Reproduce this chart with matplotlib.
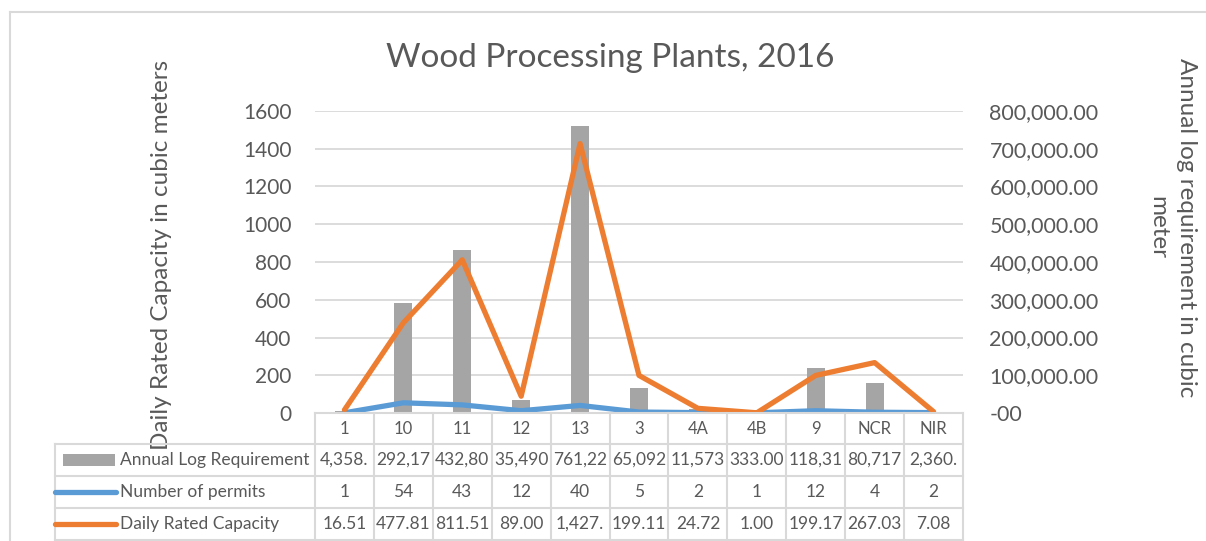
import matplotlib.pyplot as plt
import numpy as np
from matplotlib.lines import Line2D
from matplotlib.patches import Rectangle
from matplotlib.ticker import FuncFormatter, MultipleLocator
from matplotlib.transforms import blended_transform_factory

plt.rcParams['font.family'] = ['Lato', 'DejaVu Sans']

regions = ['1', '10', '11', '12', '13', '3', '4A', '4B', '9', 'NCR', 'NIR']
annual_log = [4358.40, 292172.00, 432803.00, 35490.00, 761224.00, 65092.00,
              11573.00, 333.00, 118315.00, 80717.00, 2360.00]
permits = [1, 54, 43, 12, 40, 5, 2, 1, 12, 4, 2]
daily_cap = [16.51, 477.81, 811.51, 89.00, 1427.20, 199.11, 24.72, 1.00,
             199.17, 267.03, 7.08]

GRAY = '#A5A5A5'
BLUE = '#5B9BD5'
ORANGE = '#ED7D31'
TXT = '#595959'
GRID = '#D9D9D9'

W, H = 1206, 541
fig = plt.figure(figsize=(W / 100, H / 100), dpi=100)


def fx(px):
    return px / W


def fy(py):
    return 1 - py / H


# plot area in pixels
L, R, T, B = 315, 963, 111, 413
ax = fig.add_axes([fx(L), fy(B), fx(R) - fx(L), fy(T) - fy(B)])
x = np.arange(len(regions))

ax.set_ylim(0, 1600)
ax.yaxis.set_major_locator(MultipleLocator(200))
ax.grid(axis='y', color=GRID, linewidth=1.3)
ax.set_axisbelow(True)
for s in ax.spines.values():
    s.set_visible(False)
ax.tick_params(axis='y', length=0, pad=17, labelsize=15, labelcolor=TXT)
ax.set_xticks([])
ax.set_ylabel('Daily Rated Capacity in cubic meters', fontsize=17.5, color=TXT)
ax.yaxis.set_label_coords(fx(172), fy(255), transform=fig.transFigure)

# bars on the secondary axis
ax2 = ax.twinx()
ax2.bar(x, annual_log, width=0.31, color=GRAY, zorder=2)
ax2.set_ylim(0, 800000)
ax2.yaxis.set_major_locator(MultipleLocator(100000))
ax2.yaxis.set_major_formatter(FuncFormatter(lambda v, p: f'{v:,.2f}' if v > 0 else '-00'))
ax2.tick_params(axis='y', length=0, pad=19, labelsize=15.5, labelcolor=TXT)
for s in ax2.spines.values():
    s.set_visible(False)

# lines on the primary scale, drawn above the bars
ax3 = ax.twinx()
ax3.plot(x, permits, color=BLUE, lw=3.8, solid_capstyle='round', solid_joinstyle='round')
ax3.plot(x, daily_cap, color=ORANGE, lw=3.8, solid_capstyle='round', solid_joinstyle='round')
ax3.set_ylim(0, 1600)
ax3.axis('off')

for a in (ax, ax2, ax3):
    a.set_xlim(-0.5, len(regions) - 0.5)

fig.text(fx(1172), fy(228), 'Annual log requirement in cubic\nmeter', rotation=270,
         ha='center', va='center', fontsize=17.5, color=TXT, linespacing=1.45)

fig.text(fx(610), fy(58), 'Wood Processing Plants, 2016', ha='center', va='center',
         fontsize=24, color=TXT)

# data table
trans = blended_transform_factory(ax.transData, fig.transFigure)
rows_y = [413, 444, 476, 508, 540]
fig.add_artist(Line2D([-0.5, len(regions) - 0.5], [fy(413)] * 2, transform=trans,
                      color=GRID, lw=1.5))
for yy in rows_y[1:]:
    fig.add_artist(Line2D([fx(55), fx(R)], [fy(yy)] * 2, color=GRID, lw=1.5))
fig.add_artist(Line2D([fx(55)] * 2, [fy(444), fy(540)], color=GRID, lw=1.5))
for k in range(len(regions) + 1):
    fig.add_artist(Line2D([k - 0.5] * 2, [fy(413), fy(540)], transform=trans,
                          color=GRID, lw=1.5))

row_vals = [regions,
            [f'{v:,.2f}'[:6] for v in annual_log],
            [str(v) for v in permits],
            [f'{v:,.2f}'[:6] for v in daily_cap]]
for r, vals in enumerate(row_vals):
    yc = (rows_y[r] + rows_y[r + 1]) / 2
    fs = 12 if r == 0 else 12.5
    for i, s in enumerate(vals):
        fig.text(i, fy(yc), s, transform=trans, ha='center', va='center',
                 fontsize=fs, color=TXT)

names = ['Annual Log Requirement', 'Number of permits', 'Daily Rated Capacity']
for r, name in enumerate(names):
    yc = (rows_y[r + 1] + rows_y[r + 2]) / 2
    fig.text(fx(120), fy(yc), name, ha='left', va='center', fontsize=12.5, color=TXT)
fig.add_artist(Rectangle((fx(63), fy(466)), fx(115) - fx(63), fy(454) - fy(466),
                         color=GRAY, lw=0))
fig.add_artist(Line2D([fx(55), fx(116)], [fy(492)] * 2, color=BLUE, lw=3.8,
                      solid_capstyle='round'))
fig.add_artist(Line2D([fx(55), fx(116)], [fy(524)] * 2, color=ORANGE, lw=3.8,
                      solid_capstyle='round'))

# chart border
fig.add_artist(Line2D([fx(10), 1], [fy(12)] * 2, color=GRID, lw=1.5))
fig.add_artist(Line2D([fx(10)] * 2, [fy(12), 0], color=GRID, lw=1.5))

fig.savefig('out.png', dpi=100)
